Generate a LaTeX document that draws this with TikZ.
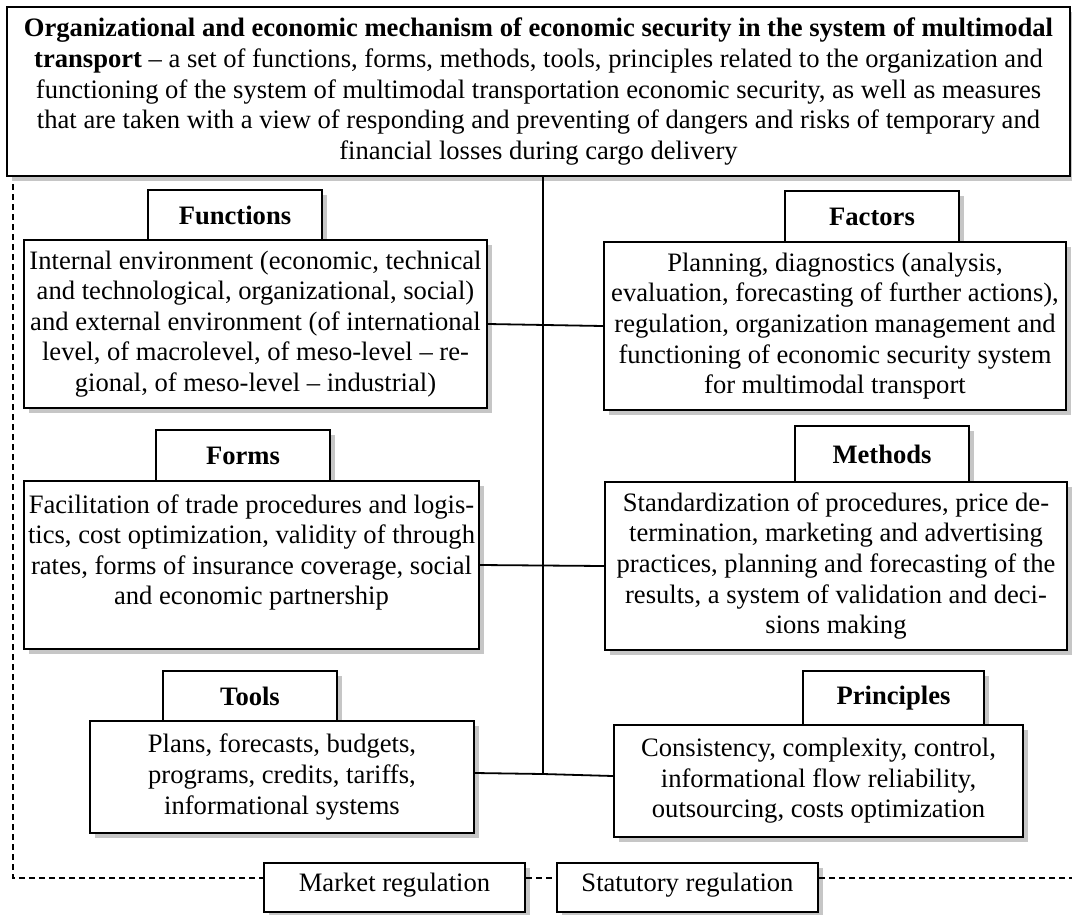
\documentclass[tikz,border=0pt]{standalone}
\usepackage{fontspec}
\setmainfont{Liberation Serif}
\usetikzlibrary{shadows}
\newcommand\fsz{\fontsize{26.6}{30.6}\selectfont}
\tikzset{
  x=1pt, y=-1pt,
  shd/.style={drop shadow={shadow xshift=5pt, shadow yshift=-5pt, fill=gray!45, opacity=1}},
  box/.style={draw, line width=2pt, fill=white, inner sep=0pt, align=center, font=\fsz, shd},
  hdr/.style={box, font=\fsz\bfseries},
  conn/.style={line width=1.8pt},
  dsh/.style={line width=1.3pt, dash pattern=on 6pt off 4pt},
}
\begin{document}
\begin{tikzpicture}
\useasboundingbox (0,0) rectangle (1072,914);

% top box
\node[box, minimum width=1063pt, minimum height=169pt] (top) at (538.5,91.5)
  {\textbf{Organizational and economic mechanism of economic security in the system of multimodal}\\
   \textbf{transport} -- a set of functions, forms, methods, tools, principles related to the organization and\\
   functioning of the system of multimodal transportation economic security, as well as measures\\
   that are taken with a view of responding and preventing of dangers and risks of temporary and\\
   financial losses during cargo delivery};

% headers
\node[hdr, minimum width=174pt, minimum height=50pt] (funH) at (235,215) {Functions};
\node[hdr, minimum width=174pt, minimum height=51pt] (facH) at (872,216.5) {Factors};
\node[hdr, minimum width=174pt, minimum height=51pt] (forH) at (243,455.5) {Forms};
\node[hdr, minimum width=174pt, minimum height=56pt] (metH) at (882,454) {Methods};
\node[hdr, minimum width=174pt, minimum height=50pt] (tooH) at (250,696) {Tools};
\node[hdr, minimum width=181pt, minimum height=54pt] (priH) at (893.5,698) {Principles};

% main boxes
\node[box, minimum width=463pt, minimum height=168pt] (fun) at (255.5,324)
  {Internal environment (economic, technical\\
   and technological, organizational, social)\\
   and external environment (of international\\
   level, of macrolevel, of meso-level -- re-\\
   gional, of meso-level -- industrial)};
\node[box, minimum width=462pt, minimum height=168pt] (fac) at (835,326)
  {Planning, diagnostics (analysis,\\
   evaluation, forecasting of further actions),\\
   regulation, organization management and\\
   functioning of economic security system\\
   for multimodal transport};
\node[box, minimum width=455pt, minimum height=168pt] (for) at (251.5,565)
  {Facilitation of trade procedures and logis-\\
   tics, cost optimization, validity of through\\
   rates, forms of insurance coverage, social\\
   and economic partnership\\ \mbox{}};
\node[box, minimum width=462pt, minimum height=168pt] (met) at (836,566)
  {Standardization of procedures, price de-\\
   termination, marketing and advertising\\
   practices, planning and forecasting of the\\
   results, a system of validation and deci-\\
   sions making};
\node[box, minimum width=384pt, minimum height=112pt] (too) at (282,777)
  {Plans, forecasts, budgets,\\
   programs, credits, tariffs,\\
   informational systems};
\node[box, minimum width=409pt, minimum height=112pt] (pri) at (818.5,781)
  {Consistency, complexity, control,\\
   informational flow reliability,\\
   outsourcing, costs optimization};

% bottom boxes
\node[box, minimum width=261pt, minimum height=49pt, text depth=10pt] (mar) at (394.5,887.5) {Market regulation};
\node[box, minimum width=261pt, minimum height=49pt, text depth=10pt] (sta) at (687.5,887.5) {Statutory regulation};

% connectors
\coordinate (sb) at (543,774);
\draw[conn] (top.south -| sb) -- (sb);
\draw[conn] (fun.east) -- (fac.west);
\draw[conn] (for.east) -- (met.west);
\draw[conn] (too.east |- 0,773) -- (sb) -- (pri.west |- 0,776);

% dashed frame
\coordinate (dtop) at (13,184);
\coordinate (dcorner) at (13,878);
\coordinate (dright) at (1072,878);
\draw[dsh] (dtop) -- (dcorner) -- (mar.west |- dcorner);
\draw[dsh] (mar.east |- dcorner) -- (sta.west |- dcorner);
\draw[dsh] (sta.east |- dcorner) -- (dright);
\end{tikzpicture}
\end{document}
